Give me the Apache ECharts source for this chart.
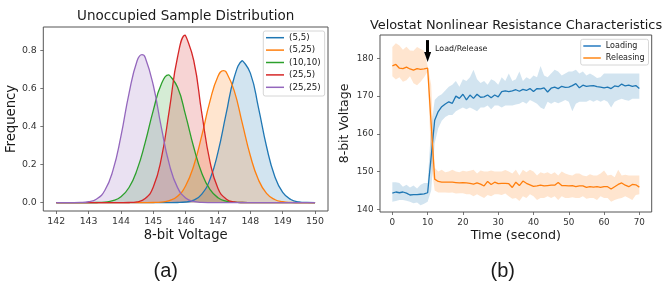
<!DOCTYPE html>
<html>
<head>
<meta charset="utf-8">
<script src="https://cdn.jsdelivr.net/npm/echarts@6/dist/echarts.min.js"></script>
<style>
html, body { margin: 0; padding: 0; background: #fff; }
#main { width: 663px; height: 284px; }
</style>
</head>
<body>
<div id="main"></div>
<script>
// ---- (a) distribution curves, sampled every 0.25 from 142 to 150
var voltage = [];
for (var i = 0; i <= 32; i++) voltage.push(142 + i * 0.25);

var distNames = ['(5,5)', '(5,25)', '(10,10)', '(25,5)', '(25,25)'];
var dist_5_5 = [0, 0, 0, 0, 0, 0, 0, 0, 0, 0, 0, 0, 0, 0,
  0.0001, 0.0006, 0.0032, 0.0133, 0.0448, 0.1215, 0.265, 0.465, 0.656, 0.7445,
  0.679, 0.4986, 0.2942, 0.1396, 0.0533, 0.0163, 0.004, 0.0008, 0.0001];
var dist_5_25 = [0, 0, 0, 0, 0, 0, 0, 0, 0, 0, 0,
  0.0001, 0.0006, 0.0027, 0.0104, 0.0333, 0.0883, 0.1937, 0.3522, 0.5307, 0.6625,
  0.6854, 0.5874, 0.4172, 0.2455, 0.1196, 0.0484, 0.0162, 0.0045, 0.001, 0.0002, 0, 0];
var dist_10_10 = [0, 0, 0, 0,
  0.0001, 0.0006, 0.0027, 0.0098, 0.0305, 0.0793, 0.1729, 0.316, 0.4841, 0.6218,
  0.6696, 0.6045, 0.4575, 0.2904, 0.1545, 0.0689, 0.0258, 0.0081, 0.0021, 0.0005, 0.0001,
  0, 0, 0, 0, 0, 0, 0, 0];
var dist_25_5 = [0, 0, 0, 0, 0, 0, 0, 0,
  0.0001, 0.0006, 0.0041, 0.0212, 0.0817, 0.233, 0.4908, 0.7637, 0.878, 0.7453,
  0.4676, 0.2167, 0.0742, 0.0188, 0.0035, 0.0005, 0.0001,
  0, 0, 0, 0, 0, 0, 0, 0];
var dist_25_25 = [0, 0,
  0.0001, 0.0008, 0.0045, 0.019, 0.0635, 0.1675, 0.3488, 0.5733, 0.7436, 0.7615,
  0.6154, 0.3927, 0.1977, 0.0786, 0.0247, 0.0061, 0.0012, 0.0002,
  0, 0, 0, 0, 0, 0, 0, 0, 0, 0, 0, 0, 0];
// peak of each curve
var peakVoltage = [147.77, 147.17, 145.48, 145.99, 144.65];
var peakFreq = [0.745, 0.692, 0.670, 0.878, 0.776];
var voltTicks = [142, 143, 144, 145, 146, 147, 148, 149, 150];
var freqTicks = [0, 0.2, 0.4, 0.6, 0.8];

// ---- (b) loading / releasing over time (1 s steps)
var seconds = [];
for (var s = 0; s <= 70; s++) seconds.push(s);

var loadMean = [144.3, 144.6, 144.4, 144.6, 144.3, 143.8, 143.9, 143.9, 144.0, 144.1, 144.4,
  154.0, 163.6, 165.9, 167.2, 167.9, 168.5, 168.1, 170.0, 169.4, 170.5,
  169.0, 170.3, 169.4, 170.5, 169.7, 169.8, 170.3, 169.6, 170.3, 169.8,
  171.2, 171.4, 171.2, 171.4, 171.7, 171.3, 171.8, 171.5, 172.0, 171.2,
  172.0, 171.9, 172.2, 171.1, 172.1, 172.4, 172.0, 172.6, 172.3, 172.4,
  172.8, 173.3, 172.2, 172.9, 172.6, 172.7, 172.8, 172.5, 172.4, 172.2,
  172.4, 172.0, 172.7, 172.5, 173.2, 172.7, 172.9, 172.6, 172.8, 172.0];
var loadHigh = [147.2, 147.2, 147.0, 146.0, 146.5, 145.8, 146.3, 145.5, 146.5, 147.0, 147.0,
  162.0, 169.0, 170.0, 170.5, 171.5, 172.5, 173.0, 174.0, 172.5, 174.5,
  174.0, 175.0, 177.0, 174.5, 173.5, 174.0, 173.0, 174.5, 174.0, 173.0,
  175.0, 174.0, 176.0, 174.0, 174.5, 176.5, 174.0, 175.0, 174.5, 175.5,
  175.0, 178.0, 175.5, 175.0, 176.0, 177.0, 176.5, 175.5, 176.0, 176.5,
  176.5, 177.0, 176.0, 176.5, 175.5, 176.0, 175.5, 174.8, 175.0, 176.0,
  176.0, 176.0, 176.0, 176.0, 176.0, 176.0, 176.0, 176.0, 176.0, 176.0];
var loadLow = [142.0, 142.2, 142.5, 142.5, 142.3, 142.0, 141.6, 141.8, 141.1, 141.5, 142.0,
  145.0, 157.5, 161.5, 163.5, 164.5, 165.0, 165.0, 166.0, 166.5, 167.0,
  166.5, 167.0, 166.5, 166.0, 167.0, 167.0, 167.5, 166.5, 167.5, 167.5,
  167.0, 167.5, 167.5, 167.5, 167.8, 168.0, 168.5, 168.0, 169.0, 168.5,
  168.0, 167.0, 166.5, 168.5, 168.0, 168.5, 168.1, 168.5, 169.0, 168.5,
  166.0, 168.0, 168.5, 168.5, 168.5, 169.0, 168.5, 169.0, 168.5, 169.0,
  168.5, 167.0, 168.5, 169.0, 169.3, 169.0, 168.8, 169.3, 169.3, 169.3];

var relMean = [178.0, 178.4, 177.4, 177.3, 177.7, 177.2, 176.9, 177.3, 177.1, 177.2, 177.4,
  162.5, 148.0, 147.4, 147.2, 147.2, 147.2, 147.2, 147.1, 147.0, 147.1,
  147.0, 146.9, 146.7, 147.0, 146.7, 146.2, 147.4, 146.6, 147.2, 146.8,
  146.9, 146.9, 146.8, 145.8, 147.2, 146.3, 147.5, 146.9, 146.5, 146.1,
  146.2, 146.4, 146.2, 146.3, 146.4, 146.4, 147.1, 146.3, 146.3, 146.2,
  146.3, 146.0, 146.2, 146.2, 145.8, 146.0, 145.9, 146.0, 145.8, 146.0,
  146.0, 145.4, 146.0, 146.6, 147.0, 146.4, 146.0, 146.6, 146.5, 145.9];
var relHigh = [183.0, 184.0, 183.4, 182.3, 183.1, 182.1, 182.0, 183.0, 182.5, 182.0, 178.0,
  173.0, 151.0, 150.0, 150.5, 149.8, 150.0, 150.5, 150.0, 149.8, 150.2,
  150.0, 150.2, 150.5, 149.5, 150.3, 150.0, 150.0, 150.3, 150.0, 150.0,
  150.0, 150.4, 150.0, 149.5, 150.5, 149.0, 150.5, 149.8, 150.5, 150.0,
  149.0, 149.8, 149.5, 149.8, 149.3, 149.8, 149.0, 150.0, 149.5, 149.2,
  149.0, 149.5, 149.5, 149.0, 148.8, 149.3, 149.0, 149.0, 149.5, 150.3,
  149.0, 149.2, 148.5, 150.5, 149.0, 149.2, 149.0, 149.0, 149.0, 149.0];
var relLow = [175.3, 174.4, 175.0, 173.8, 174.2, 175.3, 173.4, 172.9, 173.8, 175.0, 176.5,
  152.0, 145.0, 144.5, 144.5, 144.5, 144.4, 144.5, 144.2, 144.3, 144.3,
  144.0, 144.0, 143.5, 144.0, 143.5, 143.0, 143.8, 143.5, 144.0, 144.0,
  143.8, 144.2, 143.5, 142.8, 143.0, 142.2, 143.5, 143.0, 144.0, 143.5,
  142.5, 143.0, 143.0, 143.5, 143.0, 143.5, 142.5, 143.5, 143.0, 143.0,
  143.2, 143.0, 143.0, 143.5, 142.8, 143.0, 143.0, 142.5, 143.5, 143.0,
  143.0, 142.0, 142.5, 142.8, 143.0, 143.5, 143.0, 142.5, 143.8, 144.0];
var timeTicks = [0, 10, 20, 30, 40, 50, 60, 70];
var adcTicks = [140, 150, 160, 170, 180];

var FONT = 'DejaVu Sans';
var TEXT = '#1a1a1a';
var SPINE = '#555';
var tab = ['#1f77b4', '#ff7f0e', '#2ca02c', '#d62728', '#9467bd'];

function pairs(xs, ys) {
  return xs.map(function (x, i) { return [x, ys[i]]; });
}

// samples plus the read-off peak, kept in x order
function withPeak(xs, ys, px, py) {
  var pts = pairs(xs, ys).filter(function (p) { return Math.abs(p[0] - px) > 1e-6; });
  pts.push([px, py]);
  pts.sort(function (a, b) { return a[0] - b[0]; });
  return pts;
}

function valueAxis(grid, min, max, ticks, fontSize, name, nameSize, nameGap, fmt) {
  return {
    type: 'value', gridIndex: grid, min: min, max: max,
    splitLine: { show: false },
    axisLine: { show: false, onZero: false },
    axisTick: { show: true, length: 3, customValues: ticks, lineStyle: { color: SPINE, width: 0.8 } },
    axisLabel: { customValues: ticks, margin: 6.5, fontSize: fontSize, fontFamily: FONT, color: '#333',
      formatter: fmt },
    name: name, nameLocation: 'middle', nameGap: nameGap, nameMoveOverlap: false,
    nameTextStyle: { fontSize: nameSize, fontFamily: FONT, color: TEXT }
  };
}

function band(low, high, color) {
  return {
    type: 'custom', xAxisIndex: 1, yAxisIndex: 1, silent: true, z: 1,
    data: seconds.map(function (t, i) { return [t, low[i], high[i]]; }),
    encode: { x: 0, y: [1, 2] },
    renderItem: function (params, api) {
      if (params.dataIndex !== 0) return null;
      var pts = [];
      for (var i = 0; i < seconds.length; i++) pts.push(api.coord([seconds[i], high[i]]));
      for (var j = seconds.length - 1; j >= 0; j--) pts.push(api.coord([seconds[j], low[j]]));
      return { type: 'polygon', shape: { points: pts }, style: { fill: color } };
    }
  };
}

var series = [];
[dist_5_5, dist_5_25, dist_10_10, dist_25_5, dist_25_25].forEach(function (ys, k) {
  series.push({
    name: distNames[k], type: 'line', xAxisIndex: 0, yAxisIndex: 0,
    data: withPeak(voltage, ys, peakVoltage[k], peakFreq[k]), smooth: true, symbol: 'none',
    lineStyle: { width: 1.3, color: tab[k] }, itemStyle: { color: tab[k] },
    areaStyle: { color: tab[k], opacity: 0.2 }
  });
});

series.push(band(loadLow, loadHigh, 'rgba(31,119,180,0.2)'));
series.push(band(relLow, relHigh, 'rgba(255,127,14,0.2)'));
series.push({
  name: 'Loading', type: 'line', xAxisIndex: 1, yAxisIndex: 1, z: 3,
  data: pairs(seconds, loadMean), symbol: 'none',
  lineStyle: { width: 1.3, color: tab[0] }, itemStyle: { color: tab[0] }
});
series.push({
  name: 'Releasing', type: 'line', xAxisIndex: 1, yAxisIndex: 1, z: 3,
  data: pairs(seconds, relMean), symbol: 'none',
  lineStyle: { width: 1.3, color: tab[1] }, itemStyle: { color: tab[1] },
  markLine: {
    silent: true, symbol: ['none', 'triangle'], symbolSize: [7, 10],
    lineStyle: { color: '#000', width: 3, type: 'solid' },
    label: { show: false },
    data: [[{ coord: [10, 184.85] }, { coord: [10, 180.4] }]]
  },
  markPoint: {
    silent: true, symbol: 'circle', symbolSize: 0,
    label: { show: true, position: 'right', distance: 0, formatter: 'Load/Release',
      fontSize: 7.9, fontFamily: FONT, color: TEXT },
    data: [{ coord: [12.1, 182.5] }]
  }
});

var legendBase = {
  orient: 'vertical', icon: 'rect', selectedMode: false,
  borderColor: '#ccc', borderWidth: 0.8, borderRadius: 2,
  backgroundColor: 'rgba(255,255,255,0.8)'
};

var chart = echarts.init(document.getElementById('main'), null, { renderer: 'canvas' });
chart.setOption({
  backgroundColor: '#fff',
  animation: false,
  title: [
    { text: 'Unoccupied Sample Distribution', left: 185.7, top: 16.5, textAlign: 'center', textVerticalAlign: 'middle', padding: 0,
      textStyle: { fontSize: 13.5, fontWeight: 'normal', fontFamily: FONT, color: TEXT } },
    { text: 'Velostat Nonlinear Resistance Characteristics', left: 516, top: 26, textAlign: 'center', textVerticalAlign: 'middle', padding: 0,
      textStyle: { fontSize: 12.9, fontWeight: 'normal', fontFamily: FONT, color: TEXT } },
    { text: '(a)', left: 165.7, top: 271, textAlign: 'center', textVerticalAlign: 'middle', padding: 0,
      textStyle: { fontSize: 20, fontWeight: 'normal', fontFamily: 'Liberation Sans', color: TEXT } },
    { text: '(b)', left: 502.7, top: 271, textAlign: 'center', textVerticalAlign: 'middle', padding: 0,
      textStyle: { fontSize: 20, fontWeight: 'normal', fontFamily: 'Liberation Sans', color: TEXT } }
  ],
  grid: [
    { left: 43.3, top: 27, width: 284.7, height: 184, show: true, borderColor: SPINE, borderWidth: 1, containLabel: false },
    { left: 380, top: 35, width: 271.7, height: 177, show: true, borderColor: SPINE, borderWidth: 1, containLabel: false }
  ],
  xAxis: [
    valueAxis(0, 141.6, 150.4, voltTicks, 9.4, '8-bit Voltage', 13.2, 18.5),
    valueAxis(1, -3.5, 73.5, timeTicks, 8.8, 'Time (second)', 12.7, 17.5)
  ],
  yAxis: [
    valueAxis(0, -0.044, 0.921, freqTicks, 9.4, 'Frequency', 13.2, 25, function (v) { return v.toFixed(1); }),
    valueAxis(1, 139.3, 186.2, adcTicks, 8.8, '8-bit Voltage', 12.5, 28.5)
  ],
  legend: [
    Object.assign({}, legendBase, {
      data: distNames, left: 263.3, top: 31, padding: [1.7, 4, 3.7, 2.7],
      itemWidth: 18, itemHeight: 1.5, itemGap: 2.4,
      textStyle: { fontSize: 8.7, lineHeight: 10, fontFamily: FONT, color: TEXT }
    }),
    Object.assign({}, legendBase, {
      data: [
        { name: 'Loading', itemStyle: { color: '#5b9bd0' } },
        { name: 'Releasing', itemStyle: { color: '#ffa550' } }
      ],
      left: 580.7, top: 39.3, padding: [1.7, 4, 2, 2.6],
      itemWidth: 17.5, itemHeight: 2, itemGap: 2,
      textStyle: { fontSize: 8, lineHeight: 10, fontFamily: FONT, color: TEXT }
    })
  ],
  series: series
});
</script>
</body>
</html>
